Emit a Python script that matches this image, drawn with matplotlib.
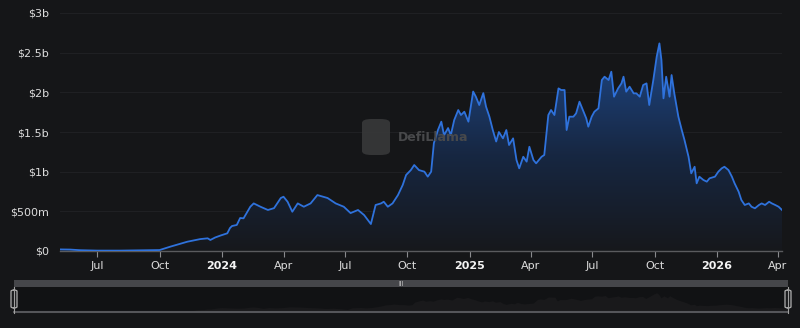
import matplotlib
matplotlib.use("Agg")
import matplotlib.pyplot as plt
import matplotlib.dates as mdates
from matplotlib.patches import FancyBboxPatch, Rectangle, Polygon
from matplotlib.colors import LinearSegmentedColormap
import numpy as np
import pandas as pd

dates = [
    "2023-05-07", "2023-05-22", "2023-06-06", "2023-07-01", "2023-08-04", "2023-09-03",
    "2023-10-01", "2023-10-17", "2023-11-11", "2023-11-30", "2023-12-11", "2023-12-15",
    "2023-12-22", "2023-12-30", "2024-01-09", "2024-01-13", "2024-01-16", "2024-01-23",
    "2024-01-28", "2024-02-02", "2024-02-12", "2024-02-17", "2024-02-27", "2024-03-09",
    "2024-03-18", "2024-03-28", "2024-04-01", "2024-04-07", "2024-04-14", "2024-04-22",
    "2024-05-01", "2024-05-11", "2024-05-21", "2024-06-05", "2024-06-17", "2024-06-29",
    "2024-07-09", "2024-07-20", "2024-07-29", "2024-08-08", "2024-08-15", "2024-08-23",
    "2024-08-27", "2024-09-02", "2024-09-09", "2024-09-17", "2024-09-24", "2024-09-29",
    "2024-10-06", "2024-10-11", "2024-10-18", "2024-10-26", "2024-10-31", "2024-11-05",
    "2024-11-09", "2024-11-15", "2024-11-20", "2024-11-24", "2024-11-30", "2024-12-04",
    "2024-12-09", "2024-12-15", "2024-12-19", "2024-12-24", "2024-12-30", "2025-01-06",
    "2025-01-10", "2025-01-15", "2025-01-21", "2025-01-25", "2025-01-30", "2025-02-04",
    "2025-02-09", "2025-02-13", "2025-02-19", "2025-02-24", "2025-02-28", "2025-03-06",
    "2025-03-11", "2025-03-15", "2025-03-21", "2025-03-26", "2025-03-30", "2025-04-05",
    "2025-04-09", "2025-04-17", "2025-04-21", "2025-04-27", "2025-05-01", "2025-05-06",
    "2025-05-12", "2025-05-16", "2025-05-21", "2025-05-24", "2025-05-28", "2025-06-03",
    "2025-06-07", "2025-06-12", "2025-06-18", "2025-06-22", "2025-06-25", "2025-06-30",
    "2025-07-04", "2025-07-10", "2025-07-15", "2025-07-19", "2025-07-25", "2025-07-29",
    "2025-08-02", "2025-08-08", "2025-08-13", "2025-08-16", "2025-08-20", "2025-08-25",
    "2025-08-31", "2025-09-04", "2025-09-09", "2025-09-14", "2025-09-19", "2025-09-23",
    "2025-09-29", "2025-10-04", "2025-10-08", "2025-10-11", "2025-10-14", "2025-10-18",
    "2025-10-23", "2025-10-26", "2025-10-30", "2025-11-05", "2025-11-10", "2025-11-14",
    "2025-11-20", "2025-11-24", "2025-11-29", "2025-12-02", "2025-12-06", "2025-12-12",
    "2025-12-17", "2025-12-21", "2025-12-29", "2026-01-03", "2026-01-08", "2026-01-12",
    "2026-01-18", "2026-01-23", "2026-01-27", "2026-02-02", "2026-02-06", "2026-02-11",
    "2026-02-17", "2026-02-21", "2026-02-26", "2026-03-04", "2026-03-08", "2026-03-13",
    "2026-03-19", "2026-03-23", "2026-03-28", "2026-04-02", "2026-04-07",
]
tvl_millions = [
    20, 18, 10, 5, 5, 8,
    12, 55, 117, 150, 160, 139,
    170, 195, 223, 290, 315, 328,
    416, 412, 558, 600, 558, 517,
    540, 668, 684, 621, 495, 600,
    558, 600, 705, 668, 600, 558,
    478, 517, 453, 340, 580, 600,
    621, 558, 600, 705, 832, 958,
    1020, 1084, 1020, 1000, 937, 1000,
    1360, 1525, 1630, 1460, 1550, 1460,
    1650, 1777, 1714, 1756, 1630, 2010,
    1945, 1840, 1990, 1820, 1693, 1525,
    1380, 1500, 1420, 1525, 1336, 1420,
    1147, 1042, 1188, 1126, 1314, 1147,
    1105, 1188, 1210, 1714, 1777, 1714,
    2050, 2029, 2029, 1525, 1693, 1693,
    1735, 1882, 1756, 1672, 1567, 1693,
    1756, 1798, 2155, 2197, 2155, 2260,
    1945, 2050, 2113, 2197, 2008, 2071,
    1987, 1987, 1945, 2092, 2113, 1840,
    2155, 2450, 2617, 2407, 1924, 2197,
    1945, 2218, 1987, 1693, 1525, 1400,
    1188, 979, 1062, 853, 937, 895,
    874, 916, 937, 1000, 1042, 1062,
    1020, 937, 853, 747, 643, 580,
    600, 558, 538, 580, 600, 580,
    621, 600, 580, 558, 517,
]
y_ticks = [0, 500e6, 1e9, 1.5e9, 2e9, 2.5e9, 3e9]
y_tick_labels = ["$0", "$500m", "$1b", "$1.5b", "$2b", "$2.5b", "$3b"]
x_ticks = ["2023-07-01", "2023-10-01", "2024-01-01", "2024-04-01", "2024-07-01",
           "2024-10-01", "2025-01-01", "2025-04-01", "2025-07-01", "2025-10-01",
           "2026-01-01", "2026-04-01"]
x_tick_labels = ["Jul", "Oct", "2024", "Apr", "Jul", "Oct", "2025", "Apr", "Jul",
                 "Oct", "2026", "Apr"]

BG = "#151618"
LINE = "#2f72dc"
TXT = "#dcdcdc"

x = pd.to_datetime(dates)
y = np.array(tvl_millions) * 1e6
xn = mdates.date2num(x)

fig = plt.figure(figsize=(8, 3.28), dpi=100, facecolor=BG)
ax = fig.add_axes([60 / 800, 1 - 251 / 328, 722 / 800, 238 / 328])
ax.set_facecolor(BG)

for t in y_ticks[1:]:
    ax.axhline(t, color="#1f2023", lw=0.8, zorder=0)

poly_xy = np.column_stack([np.r_[xn[0], xn, xn[-1]], np.r_[0, y, 0]])
clip = Polygon(poly_xy, closed=True, transform=ax.transData, facecolor="none", edgecolor="none")
ax.add_patch(clip)
cmap = LinearSegmentedColormap.from_list("g", [(0.0, "#16181c"), (0.45, "#172742"), (1.0, "#1f4a8c")])
grad = np.linspace(0, 1, 256).reshape(-1, 1)
im = ax.imshow(grad, extent=[xn[0], xn[-1], 0, 2.7e9], origin="lower", aspect="auto",
               cmap=cmap, zorder=1, interpolation="bicubic")
im.set_clip_path(clip)
ax.set_xlim(xn[0], xn[-1])
ax.set_ylim(0, 3e9)

ax.plot(xn, y, color=LINE, lw=1.3, zorder=3, solid_joinstyle="round")

for s in ["top", "right", "left"]:
    ax.spines[s].set_visible(False)
ax.spines["bottom"].set_color("#5a5b5e")
ax.spines["bottom"].set_linewidth(1.0)
ax.set_yticks(y_ticks)
ax.set_yticklabels(y_tick_labels, color=TXT, fontsize=8)
ax.tick_params(axis="y", length=0, pad=8)
xt = mdates.date2num(pd.to_datetime(x_ticks))
ax.set_xticks(xt)
ax.set_xticklabels(x_tick_labels, color=TXT, fontsize=8)
ax.tick_params(axis="x", length=4, color="#8a8b8e", pad=3)
for lbl in ax.get_xticklabels():
    if lbl.get_text().isdigit():
        lbl.set_fontweight("bold")
        lbl.set_color("#f4f4f4")

# watermark
fig.patches.append(FancyBboxPatch((362 / 800, 1 - 155 / 328), 28 / 800, 36 / 328,
                                  boxstyle="round,pad=0,rounding_size=0.012",
                                  transform=fig.transFigure, facecolor="#38393a",
                                  edgecolor="none", zorder=2, alpha=0.9))
fig.text(398 / 800, 1 - 138 / 328, "DefiLlama", color="#48494b", fontsize=9,
         fontweight="bold", va="center", ha="left", zorder=2)

# slider top bar
fig.patches.append(Rectangle((14 / 800, 1 - 287 / 328), 774 / 800, 7 / 328,
                             transform=fig.transFigure, facecolor="#45464a",
                             edgecolor="none"))
fig.text(401 / 800, 1 - 283.8 / 328, "|||", color="#e0e0e0", fontsize=3.5,
         ha="center", va="center", fontweight="bold")

# slider mini chart
sax = fig.add_axes([14 / 800, 1 - 312 / 328, 774 / 800, 25 / 328])
sax.set_facecolor("#111214")
sax.fill_between(xn, 0, y, color="#19191b", lw=0)
sax.set_xlim(xn[0], xn[-1])
sax.set_ylim(0, 3.4e9)
sax.set_xticks([])
sax.set_yticks([])
for s in sax.spines.values():
    s.set_visible(False)
sax.spines["bottom"].set_visible(True)
sax.spines["bottom"].set_color("#55565a")
sax.spines["bottom"].set_linewidth(1.5)

for hx in (14, 788):
    fig.lines.append(plt.Line2D([hx / 800, hx / 800], [1 - 313 / 328, 1 - 287 / 328],
                                transform=fig.transFigure, color="#a0a0a0", lw=0.8))
    fig.patches.append(FancyBboxPatch(((hx - 3) / 800, 1 - 308 / 328), 6 / 800, 18 / 328,
                                      boxstyle="round,pad=0,rounding_size=0.004",
                                      transform=fig.transFigure, facecolor="#1a1b1d",
                                      edgecolor="#b0b0b0", lw=0.9))

fig.savefig("out.png", dpi=100, facecolor=BG)
